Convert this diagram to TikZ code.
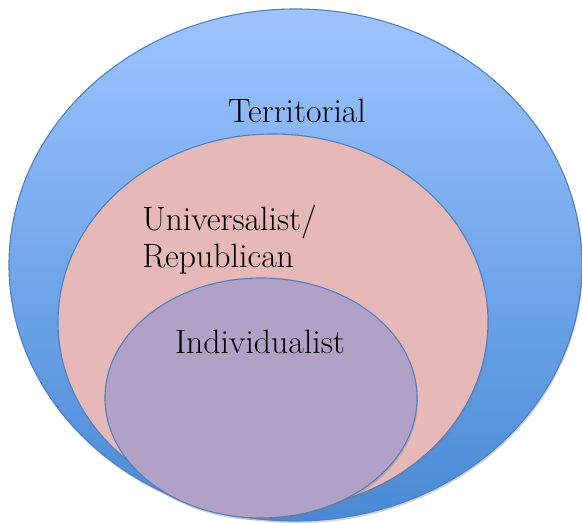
\documentclass[tikz,border=0pt]{standalone}
\usetikzlibrary{shadows}
\definecolor{rimblue}{RGB}{79,129,189}
\definecolor{skytop}{RGB}{158,196,255}
\definecolor{skymid}{RGB}{132,180,245}
\definecolor{skybot}{RGB}{72,138,214}
\definecolor{rosefill}{RGB}{230,184,183}
\definecolor{lilacfill}{RGB}{178,161,199}
\tikzset{
  ring/.style={draw=rimblue, line width=.8pt, drop shadow={shadow xshift=.6pt, shadow yshift=-1.6pt, opacity=.35}},
  lbl/.style={inner sep=0, font=\fontsize{24}{26.3}\selectfont}
}
\begin{document}
\begin{tikzpicture}[x=0.025cm, y=-0.025cm]
\useasboundingbox (0,0) rectangle (582,523);
\draw[ring, top color=skytop, middle color=skymid, bottom color=skybot] (295.5,265) ellipse [x radius=286.5, y radius=256];
\draw[ring, fill=rosefill] (273,322) ellipse [x radius=215, y radius=188];
\draw[ring, fill=lilacfill] (261,398) ellipse [x radius=156, y radius=120];
\node[lbl, anchor=base] (territorial) at (297,123) {Territorial};
\node[lbl, anchor=north west, align=left] (universalist) at (142,205) {Universalist/\\Republican};
\node[lbl, anchor=base] (individualist) at (260,353) {Individualist};
\end{tikzpicture}
\end{document}
